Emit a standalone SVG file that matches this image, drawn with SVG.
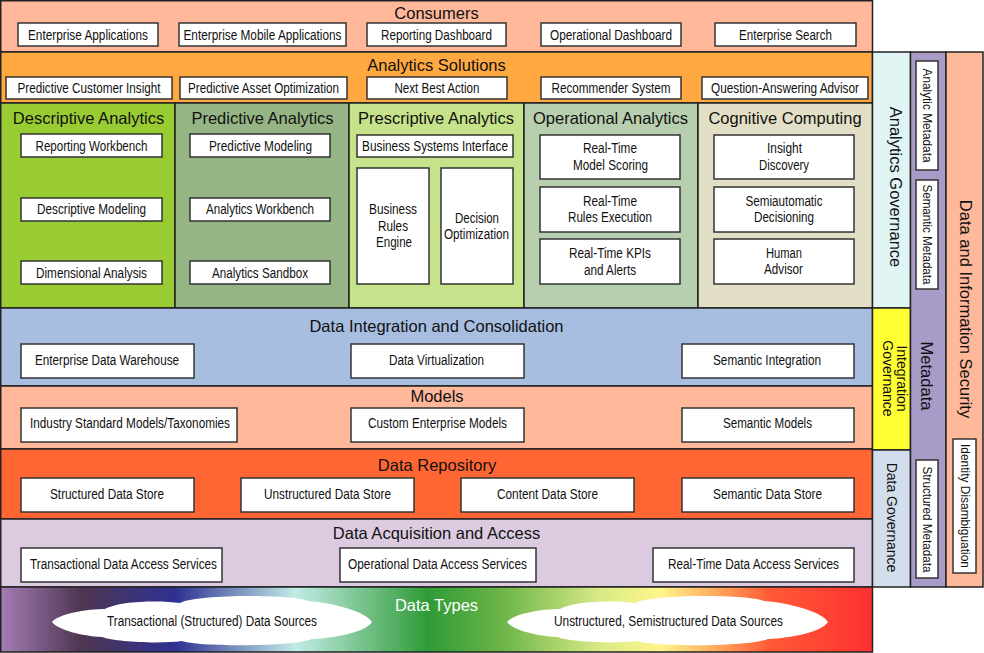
<svg xmlns="http://www.w3.org/2000/svg" width="984" height="653" viewBox="0 0 984 653">
<defs>
<style>
text{font-family:"Liberation Sans",Arial,sans-serif;fill:#111;text-anchor:middle}
.h{font-size:16.5px}
.b{font-size:14px}
.s{font-size:13px}
.w{fill:#fff}
.band{stroke:#222;stroke-width:1.5}
.box{fill:#fff;stroke:#333;stroke-width:1.5}
.cloud{fill:#fff}
</style>
<linearGradient id="dt" x1="0" y1="0" x2="1" y2="0">
<stop offset="0" stop-color="#A47DB4"/>
<stop offset="0.092" stop-color="#4E3652"/>
<stop offset="0.2" stop-color="#2E3192"/>
<stop offset="0.338" stop-color="#C2ECE6"/>
<stop offset="0.49" stop-color="#2F9B36"/>
<stop offset="0.573" stop-color="#6AB448"/>
<stop offset="0.687" stop-color="#D8EA86"/>
<stop offset="0.756" stop-color="#FFF68A"/>
<stop offset="0.813" stop-color="#FFB262"/>
<stop offset="0.882" stop-color="#FF5A36"/>
<stop offset="1" stop-color="#FF3030"/>
</linearGradient>
</defs>
<rect x="0" y="0" width="984" height="653" fill="#fff"/>

<g id="consumers">
<rect class="band" x="0.75" y="0.75" width="871.75" height="51.25" fill="#FFB89A"/>
<text class="h" x="436.5" y="18.5">Consumers</text>
<rect class="box" x="18" y="23" width="140" height="23"/><text class="b" x="88" y="39.5" textLength="120" lengthAdjust="spacingAndGlyphs">Enterprise Applications</text>
<rect class="box" x="179" y="23" width="167" height="23"/><text class="b" x="262.5" y="39.5" textLength="158" lengthAdjust="spacingAndGlyphs">Enterprise Mobile Applications</text>
<rect class="box" x="367" y="23" width="139" height="23"/><text class="b" x="436.5" y="39.5" textLength="111" lengthAdjust="spacingAndGlyphs">Reporting Dashboard</text>
<rect class="box" x="541" y="23" width="140" height="23"/><text class="b" x="611" y="39.5" textLength="122" lengthAdjust="spacingAndGlyphs">Operational Dashboard</text>
<rect class="box" x="715" y="23" width="141" height="23"/><text class="b" x="785.5" y="39.5" textLength="93" lengthAdjust="spacingAndGlyphs">Enterprise Search</text>
</g>

<g id="analytics-solutions">
<rect class="band" x="0.75" y="52" width="871.75" height="51" fill="#FFA940"/>
<text class="h" x="436.5" y="70.5">Analytics Solutions</text>
<rect class="box" x="6" y="77" width="166" height="22"/><text class="b" x="89" y="92.5" textLength="143" lengthAdjust="spacingAndGlyphs">Predictive Customer Insight</text>
<rect class="box" x="180" y="77" width="167" height="22"/><text class="b" x="263.5" y="92.5" textLength="151" lengthAdjust="spacingAndGlyphs">Predictive Asset Optimization</text>
<rect class="box" x="367" y="77" width="140" height="22"/><text class="b" x="437" y="92.5" textLength="85" lengthAdjust="spacingAndGlyphs">Next Best Action</text>
<rect class="box" x="541" y="77" width="140" height="22"/><text class="b" x="611" y="92.5" textLength="119" lengthAdjust="spacingAndGlyphs">Recommender System</text>
<rect class="box" x="702" y="77" width="166" height="22"/><text class="b" x="785" y="92.5" textLength="148" lengthAdjust="spacingAndGlyphs">Question-Answering Advisor</text>
</g>

<g id="descriptive-analytics">
<rect class="band" x="0.75" y="103" width="174.25" height="205" fill="#99CC33"/>
<text class="h" x="88.5" y="124">Descriptive Analytics</text>
<rect class="box" x="21" y="134" width="141" height="23"/><text class="b" x="91.5" y="150.5" textLength="112" lengthAdjust="spacingAndGlyphs">Reporting Workbench</text>
<rect class="box" x="21" y="198" width="141" height="23"/><text class="b" x="91.5" y="214" textLength="109" lengthAdjust="spacingAndGlyphs">Descriptive Modeling</text>
<rect class="box" x="21" y="261" width="141" height="23"/><text class="b" x="91.5" y="277.5" textLength="111" lengthAdjust="spacingAndGlyphs">Dimensional Analysis</text>
</g>

<g id="predictive-analytics">
<rect class="band" x="175" y="103" width="174" height="205" fill="#96B585"/>
<text class="h" x="262.5" y="124">Predictive Analytics</text>
<rect class="box" x="190" y="134" width="140" height="23"/><text class="b" x="260.5" y="150.5" textLength="103" lengthAdjust="spacingAndGlyphs">Predictive Modeling</text>
<rect class="box" x="190" y="198" width="140" height="23"/><text class="b" x="260" y="214" textLength="108" lengthAdjust="spacingAndGlyphs">Analytics Workbench</text>
<rect class="box" x="190" y="261" width="140" height="23"/><text class="b" x="260" y="277.5" textLength="96" lengthAdjust="spacingAndGlyphs">Analytics Sandbox</text>
</g>

<g id="prescriptive-analytics">
<rect class="band" x="349" y="103" width="175" height="205" fill="#C6E28A"/>
<text class="h" x="436" y="124">Prescriptive Analytics</text>
<rect class="box" x="357" y="135" width="156" height="22"/><text class="b" x="435" y="150.5" textLength="146" lengthAdjust="spacingAndGlyphs">Business Systems Interface</text>
<rect class="box" x="357" y="168" width="72" height="116"/>
<text class="b" x="393" y="214" textLength="48" lengthAdjust="spacingAndGlyphs">Business</text>
<text class="b" x="393" y="230.5" textLength="30" lengthAdjust="spacingAndGlyphs">Rules</text>
<text class="b" x="394" y="247" textLength="36" lengthAdjust="spacingAndGlyphs">Engine</text>
<rect class="box" x="441" y="168" width="72" height="116"/>
<text class="b" x="477" y="222.5" textLength="44" lengthAdjust="spacingAndGlyphs">Decision</text>
<text class="b" x="476.5" y="238.5" textLength="65" lengthAdjust="spacingAndGlyphs">Optimization</text>
</g>

<g id="operational-analytics">
<rect class="band" x="524" y="103" width="174" height="205" fill="#B8CFAF"/>
<text class="h" x="610.5" y="124">Operational Analytics</text>
<rect class="box" x="540" y="135" width="140" height="44"/>
<text class="b" x="610" y="153" textLength="54" lengthAdjust="spacingAndGlyphs">Real-Time</text>
<text class="b" x="610.5" y="169.5" textLength="75" lengthAdjust="spacingAndGlyphs">Model Scoring</text>
<rect class="box" x="540" y="187" width="140" height="45"/>
<text class="b" x="610" y="206" textLength="54" lengthAdjust="spacingAndGlyphs">Real-Time</text>
<text class="b" x="610" y="222" textLength="84" lengthAdjust="spacingAndGlyphs">Rules Execution</text>
<rect class="box" x="540" y="239" width="140" height="45"/>
<text class="b" x="610" y="258" textLength="82" lengthAdjust="spacingAndGlyphs">Real-Time KPIs</text>
<text class="b" x="610" y="275" textLength="52" lengthAdjust="spacingAndGlyphs">and Alerts</text>
</g>

<g id="cognitive-computing">
<rect class="band" x="698" y="103" width="174.5" height="205" fill="#E2DFC6"/>
<text class="h" x="785" y="124">Cognitive Computing</text>
<rect class="box" x="714" y="135" width="140" height="44"/>
<text class="b" x="784.5" y="153" textLength="35" lengthAdjust="spacingAndGlyphs">Insight</text>
<text class="b" x="784" y="169.5" textLength="50" lengthAdjust="spacingAndGlyphs">Discovery</text>
<rect class="box" x="714" y="187" width="140" height="45"/>
<text class="b" x="784" y="205.5" textLength="77" lengthAdjust="spacingAndGlyphs">Semiautomatic</text>
<text class="b" x="784" y="222" textLength="60" lengthAdjust="spacingAndGlyphs">Decisioning</text>
<rect class="box" x="714" y="239" width="140" height="45"/>
<text class="b" x="784" y="257.5" textLength="36" lengthAdjust="spacingAndGlyphs">Human</text>
<text class="b" x="783.5" y="274" textLength="39" lengthAdjust="spacingAndGlyphs">Advisor</text>
</g>

<g id="data-integration">
<rect class="band" x="0.75" y="308" width="871.75" height="78" fill="#A8BEE0"/>
<text class="h" x="436.5" y="331.5">Data Integration and Consolidation</text>
<rect class="box" x="21" y="344" width="173" height="34"/><text class="b" x="107" y="364.5" textLength="144" lengthAdjust="spacingAndGlyphs">Enterprise Data Warehouse</text>
<rect class="box" x="351" y="344" width="173" height="34"/><text class="b" x="436.5" y="364.5" textLength="95" lengthAdjust="spacingAndGlyphs">Data Virtualization</text>
<rect class="box" x="682" y="344" width="172" height="34"/><text class="b" x="767" y="364.5" textLength="108" lengthAdjust="spacingAndGlyphs">Semantic Integration</text>
</g>

<g id="models">
<rect class="band" x="0.75" y="386" width="871.75" height="63" fill="#FFB89A"/>
<text class="h" x="437" y="401.5">Models</text>
<rect class="box" x="21" y="408" width="216" height="34"/><text class="b" x="130" y="428" textLength="200" lengthAdjust="spacingAndGlyphs">Industry Standard Models/Taxonomies</text>
<rect class="box" x="351" y="408" width="173" height="34"/><text class="b" x="437.5" y="428" textLength="139" lengthAdjust="spacingAndGlyphs">Custom Enterprise Models</text>
<rect class="box" x="682" y="408" width="172" height="34"/><text class="b" x="767.5" y="428" textLength="89" lengthAdjust="spacingAndGlyphs">Semantic Models</text>
</g>

<g id="data-repository">
<rect class="band" x="0.75" y="449" width="871.75" height="70" fill="#FF6633"/>
<text class="h" x="437" y="470.5">Data Repository</text>
<rect class="box" x="21" y="478" width="173" height="34"/><text class="b" x="107" y="499" textLength="114" lengthAdjust="spacingAndGlyphs">Structured Data Store</text>
<rect class="box" x="241" y="478" width="173" height="34"/><text class="b" x="327.5" y="499" textLength="127" lengthAdjust="spacingAndGlyphs">Unstructured Data Store</text>
<rect class="box" x="461" y="478" width="173" height="34"/><text class="b" x="547.5" y="499" textLength="101" lengthAdjust="spacingAndGlyphs">Content Data Store</text>
<rect class="box" x="682" y="478" width="172" height="34"/><text class="b" x="767.5" y="499" textLength="109" lengthAdjust="spacingAndGlyphs">Semantic Data Store</text>
</g>

<g id="data-acquisition">
<rect class="band" x="0.75" y="519" width="871.75" height="68" fill="#DCCBE0"/>
<text class="h" x="436.5" y="538.5">Data Acquisition and Access</text>
<rect class="box" x="21" y="548" width="201" height="34"/><text class="b" x="123.5" y="568.5" textLength="187" lengthAdjust="spacingAndGlyphs">Transactional Data Access Services</text>
<rect class="box" x="340" y="548" width="196" height="34"/><text class="b" x="437.5" y="568.5" textLength="179" lengthAdjust="spacingAndGlyphs">Operational Data Access Services</text>
<rect class="box" x="653" y="548" width="201" height="34"/><text class="b" x="753.5" y="568.5" textLength="171" lengthAdjust="spacingAndGlyphs">Real-Time Data Access Services</text>
</g>

<g id="data-types">
<rect class="band" x="0.75" y="587" width="871.75" height="65" fill="url(#dt)"/>
<text class="h w" x="436.5" y="610.5">Data Types</text>
</g>

<g id="transactional-sources">
<path class="cloud" d="M52,622 C60,613 88,609 105,609 C118,601 160,600 180,603 C196,594 292,594 308,601 C335,603 366,612 372,622 C366,632 335,638 312,639 C292,647 200,647 182,641 C160,644 115,642 102,637 C82,636 58,630 52,622 Z"/>
<text class="b" x="212" y="626" textLength="210" lengthAdjust="spacingAndGlyphs">Transactional (Structured) Data Sources</text>
</g>

<g id="unstructured-sources">
<path class="cloud" d="M507,622 C515,613 543,609 560,609 C573,601 615,600 635,603 C651,594 748,594 764,601 C791,603 822,612 828,622 C822,632 791,638 768,639 C748,647 655,647 637,641 C615,644 570,642 557,637 C537,636 513,630 507,622 Z"/>
<text class="b" x="668.5" y="626" textLength="229" lengthAdjust="spacingAndGlyphs">Unstructured, Semistructured Data Sources</text>
</g>

<g id="analytics-governance">
<rect class="band" x="872.5" y="52" width="38" height="256" fill="#E0F4F4"/>
<text class="h" transform="translate(890,187) rotate(90)">Analytics Governance</text>
</g>

<g id="integration-governance">
<rect class="band" x="872.5" y="308" width="38" height="142" fill="#FFFF33"/>
<text class="b" transform="translate(896.5,378.5) rotate(90)">Integration</text>
<text class="b" transform="translate(883,378.5) rotate(90)">Governance</text>
</g>

<g id="data-governance">
<rect class="band" x="872.5" y="450" width="38" height="137" fill="#D2DEEC"/>
<text class="b" transform="translate(887,517.5) rotate(90)">Data Governance</text>
</g>

<g id="metadata">
<rect class="band" x="910.5" y="52" width="35.5" height="535" fill="#A99BC7"/>
<text class="h" transform="translate(921,376) rotate(90)">Metadata</text>
<rect class="box" x="916" y="61" width="22" height="109"/>
<text class="s" transform="translate(923,115.5) rotate(90)" textLength="94" lengthAdjust="spacingAndGlyphs">Analytic Metadata</text>
<rect class="box" x="916" y="180" width="22" height="109"/>
<text class="s" transform="translate(923,234.5) rotate(90)" textLength="100" lengthAdjust="spacingAndGlyphs">Semantic Metadata</text>
<rect class="box" x="916" y="460" width="22" height="118"/>
<text class="s" transform="translate(923,519.5) rotate(90)" textLength="106" lengthAdjust="spacingAndGlyphs">Structured Metadata</text>
</g>

<g id="security">
<rect class="band" x="946" y="52" width="37" height="535" fill="#FFB89A"/>
<text class="h" transform="translate(960,309) rotate(90)">Data and Information Security</text>
<rect class="box" x="953" y="439" width="23" height="134"/>
<text class="s" transform="translate(961,506) rotate(90)" textLength="124" lengthAdjust="spacingAndGlyphs">Identity Disambiguation</text>
</g>

<g id="connectors"></g>
</svg>
